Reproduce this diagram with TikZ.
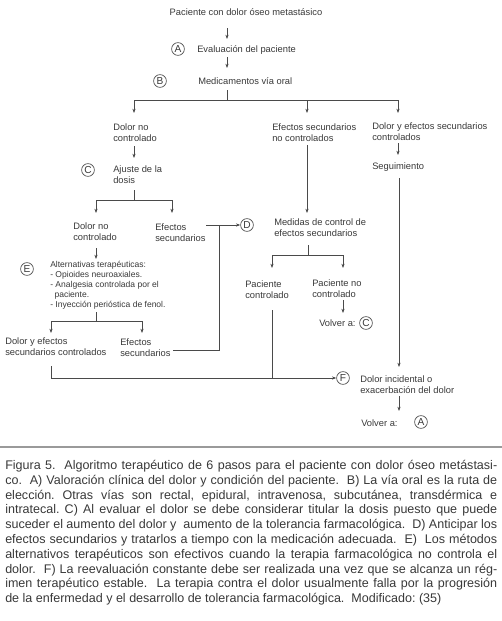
\documentclass[tikz,border=0pt]{standalone}
\usepackage{fontspec}
\setmainfont{Liberation Sans}
\usetikzlibrary{arrows.meta}
\definecolor{ink}{HTML}{383838}
\definecolor{lncol}{HTML}{4A4A4A}
\definecolor{rulecol}{HTML}{9A9A9A}
\frenchspacing
\begin{document}
\begin{tikzpicture}[x=0.75pt,y=-0.75pt,
 txt/.style={font=\fontsize{7}{8.4}\selectfont, text=ink, inner sep=0pt, align=left, anchor=west},
 smalltxt/.style={font=\fontsize{6.4}{7.5}\selectfont, text=ink, inner sep=0pt, align=left, anchor=north west},
 lbl/.style={circle, draw=lncol, line width=0.5pt, minimum size=9.6pt, inner sep=0pt, font=\fontsize{7.6}{8}\selectfont, text=ink},
 arr/.style={draw=lncol, line width=0.55pt, -{Stealth[length=3.2pt,width=2.4pt]}},
 conn/.style={draw=lncol, line width=0.55pt},
 capt/.style={font=\fontsize{9.4}{11.1}\selectfont, text=ink, inner sep=0pt, align=left, anchor=north west}
]
\useasboundingbox (0,0) rectangle (502,621);

% ---------- nodes ----------
\node[txt, anchor=center] (t0) at (246,12) {Paciente con dolor óseo metastásico};
\node[lbl] (A1) at (178,49) {A};
\node[txt] (t1) at (197,50) {Evaluación del paciente};
\node[lbl] (B) at (160,81) {B};
\node[txt] (t2) at (198,81) {Medicamentos vía oral};

\node[txt] (t3) at (113,133) {Dolor no\\controlado};
\node[lbl] (C1) at (88,170) {C};
\node[txt] (t4) at (113,175) {Ajuste de la\\dosis};
\node[txt] (t5) at (73,232) {Dolor no\\controlado};
\node[txt] (t6) at (155,233) {Efectos\\secundarios};
\node[lbl] (D) at (247,225) {D};
\node[lbl] (E) at (27,269) {E};
\node[smalltxt] (t7) at (50,261) {Alternativas terapéuticas:\\- Opioides neuroaxiales.\\- Analgesia controlada por el\\\hspace*{3.2pt}paciente.\\- Inyección perióstica de fenol.};
\node[txt] (t8) at (5,347) {Dolor y efectos\\secundarios controlados};
\node[txt] (t9) at (120,348) {Efectos\\secundarios};

\node[txt] (t10) at (272,133) {Efectos secundarios\\no controlados};
\node[txt] (t11) at (274,228) {Medidas de control de\\efectos secundarios};
\node[txt] (t12) at (245,290) {Paciente\\controlado};
\node[txt] (t13) at (312,289) {Paciente no\\controlado};
\node[txt] (t14) at (319,323) {Volver a:};
\node[lbl] (C2) at (366,323) {C};
\node[lbl] (F) at (343,378) {F};
\node[txt] (t15) at (360,385) {Dolor incidental o\\exacerbación del dolor};
\node[txt] (t16) at (361,423) {Volver a:};
\node[lbl] (A2) at (421,422) {A};

\node[txt] (t17) at (372,132) {Dolor y efectos secundarios\\controlados};
\node[txt] (t18) at (372,167) {Seguimiento};

% ---------- junction coordinates ----------
\coordinate (a0s) at (227,28);  \coordinate (a0e) at (227,39);
\coordinate (a1s) at (227,57);  \coordinate (a1e) at (227,68);
\coordinate (b0) at (227,90);   \coordinate (b1) at (227,100);
\coordinate (bl) at (134,100);  \coordinate (bm) at (307,100); \coordinate (br) at (398,100);
\coordinate (blE) at (134,113); \coordinate (bmE) at (307,113); \coordinate (brE) at (398,113);
\coordinate (c0s) at (134,146); \coordinate (c0e) at (134,158);
\coordinate (c1) at (134,190);  \coordinate (c2) at (134,200);
\coordinate (cl) at (96,200);   \coordinate (cr) at (172,200);
\coordinate (clE) at (96,213);  \coordinate (crE) at (172,213);
\coordinate (d0) at (206,225);  \coordinate (d1) at (219,225);
\coordinate (d2) at (219,350);  \coordinate (d3) at (173,350);
\coordinate (e0s) at (96,248);  \coordinate (e0e) at (96,259);
\coordinate (e1) at (96,312);   \coordinate (e2) at (96,321);
\coordinate (el) at (51,321);   \coordinate (er) at (142,321);
\coordinate (elE) at (51,333);  \coordinate (erE) at (142,333);
\coordinate (f0) at (51,366);   \coordinate (f1) at (51,378);
\coordinate (g0s) at (307,145); \coordinate (g0e) at (307,213);
\coordinate (h0) at (308,245);  \coordinate (h1) at (308,255);
\coordinate (hl) at (272,255);  \coordinate (hr) at (343,255);
\coordinate (hlE) at (272,268); \coordinate (hrE) at (343,268);
\coordinate (i0s) at (343,300); \coordinate (i0e) at (343,313);
\coordinate (j0) at (272,310);  \coordinate (j1) at (272,378);
\coordinate (k0s) at (398,143); \coordinate (k0e) at (398,155);
\coordinate (m0s) at (399,178); \coordinate (m0e) at (399,367);
\coordinate (n0s) at (399,396); \coordinate (n0e) at (399,411);

% ---------- connectors ----------
\draw[arr] (a0s) -- (a0e);
\draw[arr] (a1s) -- (a1e);
\draw[conn] (b0) -- (b1);
\draw[conn] (bl) -- (br);
\draw[arr] (bl) -- (blE);
\draw[arr] (bm) -- (bmE);
\draw[arr] (br) -- (brE);
\draw[arr] (c0s) -- (c0e);
\draw[conn] (c1) -- (c2);
\draw[conn] (cl) -- (cr);
\draw[arr] (cl) -- (clE);
\draw[arr] (cr) -- (crE);
\draw[arr] (d0) -- (D);
\draw[conn] (d1) -- (d2) -- (d3);
\draw[arr] (e0s) -- (e0e);
\draw[conn] (e1) -- (e2);
\draw[conn] (el) -- (er);
\draw[arr] (el) -- (elE);
\draw[arr] (er) -- (erE);
\draw[arr] (f0) -- (f1) -- (F);
\draw[arr] (g0s) -- (g0e);
\draw[conn] (h0) -- (h1);
\draw[conn] (hl) -- (hr);
\draw[arr] (hl) -- (hlE);
\draw[arr] (hr) -- (hrE);
\draw[arr] (i0s) -- (i0e);
\draw[conn] (j0) -- (j1);
\draw[arr] (k0s) -- (k0e);
\draw[arr] (m0s) -- (m0e);
\draw[arr] (n0s) -- (n0e);

% ---------- caption ----------
\coordinate (rl) at (0,447); \coordinate (rr) at (502,447);
\draw[draw=rulecol, line width=1.1pt] (rl) -- (rr);
\node[capt] (cap) at (5,460) {%
\makebox[369pt][s]{Figura 5.~ Algoritmo terapéutico de 6 pasos para el paciente con dolor óseo metástasi-}\\
\makebox[369pt][s]{co.~ A) Valoración clínica del dolor y condición del paciente.~ B) La vía oral es la ruta de}\\
\makebox[369pt][s]{elección. Otras vías son rectal, epidural, intravenosa, subcutánea, transdérmica e}\\
\makebox[369pt][s]{intratecal. C) Al evaluar el dolor se debe considerar titular la dosis puesto que puede}\\
\makebox[369pt][s]{suceder el aumento del dolor y~ aumento de la tolerancia farmacológica.~ D) Anticipar los}\\
\makebox[369pt][s]{efectos secundarios y tratarlos a tiempo con la medicación adecuada.~ E)~ Los métodos}\\
\makebox[369pt][s]{alternativos terapéuticos son efectivos cuando la terapia farmacológica no controla el}\\
\makebox[369pt][s]{dolor.~ F) La reevaluación constante debe ser realizada una vez que se alcanza un rég-}\\
\makebox[369pt][s]{imen terapéutico estable.~ La terapia contra el dolor usualmente falla por la progresión}\\
de la enfermedad y el desarrollo de tolerancia farmacológica.~ Modificado: (35)};
\end{tikzpicture}
\end{document}
